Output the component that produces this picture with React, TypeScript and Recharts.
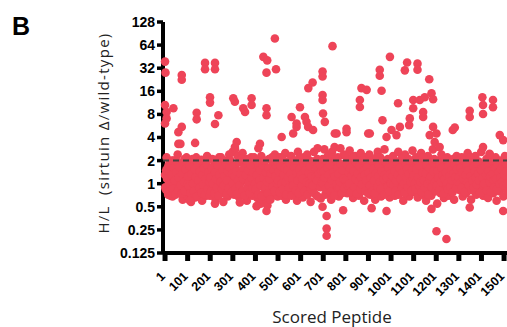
import { ScatterChart, Scatter, XAxis, YAxis, ReferenceLine } from "recharts";

const xTicks = [1, 101, 201, 301, 401, 501, 601, 701, 801, 901, 1001, 1101, 1201, 1301, 1401, 1501];
const yTicks = [0.125, 0.25, 0.5, 1, 2, 4, 8, 16, 32, 64, 128];
const cutoff = 2;

// dense band of peptides around H/L = 1 (x, ratio)
const bandPoints: [number, number][] = [
  [1, 1.3], [4, 0.85], [8, 2.2], [12, 1.6], [15, 0.72], [19, 1.1], [23, 1.9], [27, 0.95], [30, 1.45], [34, 0.68], [38, 2.0], [42, 1.2], [45, 0.8], [49, 1.7], [53, 1.05], [57, 2.4], [60, 0.75], [64, 1.35], [68, 0.9], [72, 1.8], [75, 1.15], [79, 0.62], [83, 1.5], [87, 2.1], [90, 0.88], [94, 1.25], [98, 0.7],
  [101, 1.6], [105, 0.78], [109, 2.0], [112, 1.1], [116, 0.58], [120, 1.4], [124, 1.85], [127, 0.9], [131, 1.2], [135, 0.66], [139, 2.2], [142, 1.0], [146, 0.74], [150, 1.55], [154, 1.3], [157, 0.85], [161, 2.05], [165, 0.6], [169, 1.15], [172, 1.75], [176, 0.95], [180, 1.45], [184, 0.7], [187, 2.3], [191, 1.05], [195, 0.8], [199, 1.6],
  [203, 0.9], [206, 1.5], [210, 2.1], [214, 0.7], [218, 1.25], [221, 1.8], [225, 0.62], [229, 1.05], [233, 1.65], [236, 0.85], [240, 2.2], [244, 1.35], [248, 0.75], [251, 1.9], [255, 1.1], [259, 0.58], [263, 1.45], [266, 2.0], [270, 0.95], [274, 1.2], [278, 0.68], [281, 1.7], [285, 2.4], [289, 0.8], [293, 1.3], [296, 1.0], [300, 2.6],
  [303, 1.15], [307, 0.72], [311, 2.8], [314, 1.6], [318, 0.9], [322, 2.3], [326, 1.3], [329, 0.66], [333, 1.95], [337, 1.05], [341, 0.8], [344, 2.5], [348, 1.4], [352, 0.75], [356, 1.75], [359, 1.1], [363, 0.6], [367, 2.1], [371, 1.25], [374, 0.88], [378, 1.55], [382, 2.2], [386, 0.7], [389, 1.0], [393, 1.8], [397, 0.82],
  [401, 1.45], [405, 2.0], [409, 0.65], [412, 1.2], [416, 1.7], [420, 0.92], [424, 0.55], [427, 2.3], [431, 1.05], [435, 1.5], [439, 0.75], [442, 1.9], [446, 1.3], [450, 0.6], [454, 0.52], [457, 1.0], [461, 2.1], [465, 1.6], [469, 0.8], [472, 1.25], [476, 0.7], [480, 1.85], [484, 1.1], [487, 2.4], [491, 0.9], [495, 1.4], [499, 0.68],
  [503, 1.6], [506, 0.85], [510, 2.2], [514, 1.15], [518, 0.7], [521, 1.8], [525, 1.35], [529, 0.95], [533, 2.5], [536, 0.62], [540, 1.25], [544, 1.95], [548, 0.78], [551, 1.5], [555, 1.05], [559, 2.3], [563, 0.88], [566, 1.4], [570, 2.0], [574, 0.72], [578, 1.2], [581, 1.7], [585, 0.6], [589, 2.6], [593, 1.0], [596, 1.3],
  [600, 0.8], [604, 1.9], [608, 1.45], [611, 0.66], [615, 2.2], [619, 1.1], [623, 0.9], [626, 1.65], [630, 2.4], [634, 0.75], [638, 1.3], [641, 2.0], [645, 0.58], [649, 1.2], [653, 1.75], [656, 0.85], [660, 2.6], [664, 1.4], [668, 1.0], [671, 0.7], [675, 2.1], [679, 1.55], [683, 0.95], [686, 1.25], [690, 0.64], [694, 1.85], [698, 0.5],
  [702, 1.35], [706, 2.8], [710, 0.72], [713, 1.6], [717, 1.05], [721, 2.3], [725, 0.85], [728, 1.9], [732, 1.2], [736, 0.62], [740, 2.6], [743, 1.45], [747, 0.95], [751, 3.0], [755, 1.75], [758, 0.78], [762, 1.15], [766, 2.2], [770, 0.68], [773, 1.55], [777, 2.9], [781, 1.0], [785, 1.3], [788, 0.8], [792, 2.4], [796, 1.7], [799, 0.9],
  [803, 1.5], [807, 0.75], [811, 2.1], [814, 1.2], [818, 2.7], [822, 0.88], [826, 1.4], [829, 1.85], [833, 0.65], [837, 1.1], [841, 2.3], [844, 1.6], [848, 0.8], [852, 1.0], [856, 2.0], [859, 0.7], [863, 1.3], [867, 2.5], [871, 0.92], [874, 1.7], [878, 1.15], [882, 0.6], [886, 2.2], [889, 1.45], [893, 0.85], [897, 1.95],
  [901, 1.05], [905, 2.4], [909, 0.72], [912, 1.6], [916, 1.25], [920, 0.9], [924, 2.0], [927, 1.4], [931, 0.62], [935, 1.8], [939, 1.1], [942, 2.6], [946, 0.8], [950, 1.5], [954, 2.2], [957, 0.68], [961, 1.3], [965, 0.95], [969, 1.75], [972, 2.8], [976, 1.0], [980, 0.78], [984, 1.55], [987, 2.1], [991, 1.2], [995, 0.66], [999, 1.9],
  [1003, 1.4], [1006, 0.85], [1010, 2.3], [1014, 1.15], [1018, 0.7], [1021, 1.9], [1025, 1.6], [1029, 1.0], [1033, 2.6], [1036, 0.75], [1040, 1.3], [1044, 2.0], [1048, 0.9], [1051, 1.7], [1055, 0.6], [1059, 1.2], [1063, 2.4], [1066, 1.45], [1070, 0.82], [1074, 1.05], [1078, 2.1], [1081, 0.68], [1085, 1.55], [1089, 1.85], [1093, 0.95], [1096, 2.7], [1100, 1.25],
  [1104, 0.78], [1108, 1.6], [1111, 2.2], [1115, 1.1], [1119, 0.66], [1123, 1.85], [1126, 1.35], [1130, 0.92], [1134, 2.5], [1138, 1.2], [1141, 0.72], [1145, 1.7], [1149, 2.0], [1153, 1.0], [1156, 0.6], [1160, 1.45], [1164, 2.3], [1168, 0.85], [1171, 1.25], [1175, 1.9], [1179, 0.7], [1183, 1.55], [1186, 2.8], [1190, 1.05], [1194, 0.8], [1198, 1.65],
  [1201, 1.3], [1205, 0.55], [1209, 2.0], [1212, 1.15], [1216, 1.7], [1220, 0.75], [1224, 2.4], [1227, 0.95], [1231, 1.45], [1235, 0.65], [1239, 1.85], [1242, 1.2], [1246, 0.88], [1250, 2.2], [1254, 1.55], [1257, 0.7], [1261, 1.05], [1265, 1.9], [1269, 0.8], [1272, 1.35], [1276, 2.1], [1280, 0.62], [1284, 1.6], [1287, 1.0], [1291, 2.3], [1295, 0.9], [1299, 1.25],
  [1303, 1.75], [1306, 0.82], [1310, 1.2], [1314, 2.2], [1318, 0.68], [1321, 1.5], [1325, 1.0], [1329, 1.9], [1333, 0.75], [1336, 1.35], [1340, 2.5], [1344, 0.9], [1348, 1.6], [1351, 1.1], [1355, 0.62], [1359, 2.0], [1363, 1.4], [1366, 0.85], [1370, 1.25], [1374, 2.3], [1378, 0.72], [1381, 1.7], [1385, 1.05], [1389, 1.95], [1393, 0.8], [1396, 1.45], [1400, 2.6],
  [1404, 1.1], [1408, 0.7], [1411, 1.8], [1415, 1.3], [1419, 0.92], [1423, 2.1], [1426, 1.55], [1430, 0.65], [1434, 1.2], [1438, 2.4], [1441, 0.85], [1445, 1.65], [1449, 1.0], [1453, 0.75], [1456, 1.9], [1460, 1.35], [1464, 2.2], [1468, 0.6], [1471, 1.45], [1475, 1.05], [1479, 0.8], [1483, 1.75], [1486, 2.0], [1490, 0.9], [1494, 1.25], [1498, 0.68], [1501, 1.6], [1505, 2.3], [1509, 1.1], [1512, 0.82],
];

// second pass through the band, the core between ~0.7 and ~2
const corePoints: [number, number][] = [
  [2, 0.9], [6, 1.5], [10, 1.15], [13, 0.78], [17, 1.75], [21, 1.0], [25, 0.7], [29, 1.3], [32, 2.0], [36, 0.85], [40, 1.6], [44, 1.1], [47, 0.72], [51, 1.4], [55, 1.95], [59, 0.82], [62, 1.2], [66, 1.65], [70, 0.95], [74, 0.74], [77, 1.35], [81, 1.85], [85, 1.05], [89, 0.8], [92, 1.55], [96, 2.2], [100, 1.0],
  [103, 1.25], [107, 0.92], [110, 1.7], [114, 0.75], [118, 1.35], [122, 2.1], [125, 1.0], [129, 0.8], [133, 1.55], [137, 1.2], [140, 0.68], [144, 1.9], [148, 1.1], [152, 0.88], [155, 1.45], [159, 2.0], [163, 0.76], [167, 1.3], [170, 0.98], [174, 1.6], [178, 0.72], [182, 1.15], [185, 1.8], [189, 0.85], [193, 1.4], [197, 1.05], [200, 0.7],
  [201, 1.2], [205, 0.8], [208, 1.6], [212, 1.0], [216, 2.05], [219, 0.75], [223, 1.4], [227, 1.15], [231, 0.9], [234, 1.75], [238, 0.7], [242, 1.3], [246, 1.05], [249, 2.2], [253, 0.85], [257, 1.5], [261, 0.95], [264, 1.25], [268, 1.8], [272, 0.72], [276, 1.1], [279, 1.45], [283, 0.88], [287, 1.65], [291, 2.0], [294, 0.78], [298, 1.35],
  [301, 1.0], [305, 1.7], [309, 1.25], [312, 0.85], [316, 1.45], [320, 0.74], [324, 1.1], [328, 1.9], [331, 0.95], [335, 1.35], [339, 2.1], [343, 0.8], [346, 1.15], [350, 1.6], [354, 0.7], [358, 1.3], [361, 2.0], [365, 0.9], [369, 1.5], [373, 1.05], [376, 0.76], [380, 1.75], [384, 1.2], [388, 0.88], [391, 1.4], [395, 2.2], [399, 1.0],
  [403, 0.85], [407, 1.3], [410, 1.9], [414, 0.72], [418, 1.1], [422, 1.5], [425, 0.95], [429, 0.68], [433, 1.75], [437, 1.2], [440, 2.0], [444, 0.88], [448, 1.4], [452, 1.05], [455, 0.75], [459, 1.6], [463, 1.15], [467, 0.62], [470, 1.35], [474, 2.2], [478, 0.92], [482, 1.5], [485, 0.8], [489, 1.25], [493, 1.7], [497, 1.0], [500, 1.9],
  [501, 1.1], [505, 1.45], [508, 0.78], [512, 1.7], [516, 1.0], [520, 2.1], [523, 0.85], [527, 1.3], [531, 1.6], [535, 1.05], [538, 0.72], [542, 1.5], [546, 1.2], [550, 0.9], [553, 1.85], [557, 1.35], [561, 0.7], [565, 1.15], [568, 0.95], [572, 1.65], [576, 2.0], [580, 0.82], [583, 1.4], [587, 1.1], [591, 0.76], [595, 1.55], [598, 2.2],
  [602, 1.3], [606, 0.95], [610, 1.15], [613, 1.8], [617, 0.8], [621, 1.5], [625, 2.0], [628, 1.05], [632, 0.72], [636, 1.4], [640, 1.0], [643, 1.7], [647, 0.85], [651, 1.25], [655, 0.95], [658, 1.95], [662, 0.75], [666, 1.2], [670, 1.6], [673, 1.1], [677, 0.68], [681, 1.35], [685, 1.8], [688, 0.9], [692, 1.45], [696, 1.05], [699, 2.1],
  [700, 1.0], [704, 1.45], [708, 1.2], [712, 0.85], [715, 2.0], [719, 1.6], [723, 1.3], [727, 0.95], [730, 1.75], [734, 0.78], [738, 1.1], [742, 2.2], [745, 1.4], [749, 0.7], [753, 1.25], [757, 2.1], [760, 0.98], [764, 1.6], [768, 1.35], [772, 0.9], [775, 1.05], [779, 1.8], [783, 0.75], [787, 1.5], [790, 1.15], [794, 0.88], [798, 2.3],
  [801, 1.1], [805, 1.8], [809, 0.95], [813, 1.4], [816, 1.0], [820, 1.6], [824, 0.78], [828, 1.25], [831, 2.2], [835, 1.45], [839, 0.9], [843, 1.15], [846, 1.9], [850, 0.74], [854, 1.35], [858, 1.05], [861, 1.7], [865, 0.85], [869, 1.2], [873, 0.98], [876, 2.0], [880, 1.5], [884, 1.3], [888, 0.8], [891, 1.1], [895, 1.65], [899, 0.75],
  [903, 1.4], [907, 0.95], [911, 1.2], [914, 2.0], [918, 0.8], [922, 1.55], [926, 1.1], [929, 0.75], [933, 1.35], [937, 2.2], [941, 0.9], [944, 1.25], [948, 1.7], [952, 1.05], [956, 0.85], [959, 1.45], [963, 2.0], [967, 1.15], [971, 0.72], [974, 1.3], [978, 1.9], [982, 1.2], [986, 0.92], [989, 1.6], [993, 0.8], [997, 1.35], [1000, 1.05],
  [1001, 1.0], [1005, 1.7], [1008, 1.25], [1012, 0.95], [1016, 1.45], [1020, 0.8], [1023, 1.1], [1027, 1.9], [1031, 1.3], [1035, 0.72], [1038, 1.6], [1042, 1.15], [1046, 2.1], [1050, 0.88], [1053, 1.4], [1057, 1.0], [1061, 0.76], [1065, 1.8], [1068, 1.2], [1072, 1.55], [1076, 0.9], [1080, 1.35], [1083, 2.0], [1087, 1.05], [1091, 0.8], [1095, 1.5], [1098, 1.15],
  [1102, 1.3], [1106, 1.0], [1110, 0.85], [1113, 1.55], [1117, 2.0], [1121, 1.2], [1125, 0.95], [1128, 1.7], [1132, 1.05], [1136, 0.78], [1140, 1.4], [1143, 2.2], [1147, 1.1], [1151, 0.88], [1155, 1.35], [1158, 1.75], [1162, 1.0], [1166, 0.72], [1170, 1.6], [1173, 1.15], [1177, 1.25], [1181, 0.9], [1185, 1.9], [1188, 1.45], [1192, 2.1], [1196, 1.05], [1199, 0.8],
  [1203, 0.95], [1207, 1.45], [1210, 1.2], [1214, 0.82], [1218, 1.9], [1222, 1.05], [1225, 1.6], [1229, 1.3], [1233, 0.74], [1237, 1.15], [1240, 2.1], [1244, 1.4], [1248, 1.0], [1252, 0.85], [1255, 1.7], [1259, 1.25], [1263, 0.92], [1267, 1.5], [1270, 1.1], [1274, 0.78], [1278, 1.35], [1282, 1.8], [1285, 1.2], [1289, 0.88], [1293, 1.55], [1297, 1.05], [1300, 2.0],
  [1301, 1.2], [1305, 1.0], [1308, 1.6], [1312, 0.88], [1316, 1.4], [1320, 1.15], [1323, 2.0], [1327, 0.78], [1331, 1.3], [1335, 1.75], [1338, 1.05], [1342, 1.5], [1346, 0.95], [1350, 2.2], [1353, 1.25], [1357, 0.82], [1361, 1.1], [1365, 1.65], [1368, 0.9], [1372, 1.45], [1376, 1.2], [1380, 0.98], [1383, 1.85], [1387, 1.35], [1391, 1.1], [1395, 0.76], [1398, 1.55],
  [1402, 1.5], [1406, 1.2], [1410, 0.95], [1413, 1.0], [1417, 1.7], [1421, 1.3], [1425, 0.82], [1428, 1.9], [1432, 1.45], [1436, 1.05], [1440, 1.25], [1443, 0.78], [1447, 2.0], [1451, 1.35], [1455, 1.1], [1458, 0.9], [1462, 1.6], [1466, 1.15], [1470, 0.85], [1473, 1.8], [1477, 1.4], [1481, 1.0], [1485, 1.2], [1488, 1.55], [1492, 1.05], [1496, 1.7], [1500, 0.95], [1503, 1.3], [1507, 1.85], [1511, 1.45], [1514, 1.0],
];

// enriched peptides above the band
const highPoints: [number, number][] = [
  [1, 39], [3, 28], [1, 10.6], [8, 8.6], [8, 7.1], [1, 6.1], [38, 9.6], [75, 26], [75, 22.6], [75, 5.5], [60, 4.7], [60, 3.3], [69, 3.3],
  [134, 3.4], [141, 8.4], [141, 6.9], [178, 37.5], [178, 31], [222, 37.5], [222, 31], [200, 13.4], [200, 11.4], [237, 7.8], [222, 6.0],
  [303, 13], [310, 11.7], [347, 9.6], [355, 8.6], [384, 13], [384, 10.6], [318, 3.5], [310, 3.0], [421, 3.3], [414, 2.9],
  [436, 45], [453, 40.5], [450, 28], [492, 31], [487, 78], [450, 9.6], [450, 7.8], [517, 4.06], [561, 7.4], [568, 4.5],
  [583, 5.5], [583, 6.1], [598, 9.9], [620, 7.4], [627, 6.4], [634, 5.5], [656, 5.0], [635, 17.6], [654, 20.8], [676, 2.9],
  [698, 29], [698, 25], [698, 14.3], [698, 12.3], [700, 8.2], [708, 6.4], [742, 62], [752, 4.5], [760, 4.5], [804, 5.2], [804, 4.7],
  [863, 12.3], [863, 10], [870, 17.6], [893, 16.7], [900, 4.5], [907, 4.5], [951, 30.5], [951, 25.5], [959, 16.3], [963, 6.7],
  [981, 4.06], [996, 45], [1003, 5.0], [1025, 4.3], [1032, 11.2], [1040, 5.5], [1062, 30], [1072, 38], [1081, 5.8], [1084, 7.1],
  [1099, 12.3], [1099, 9.6], [1118, 36.7], [1118, 30.5], [1128, 12.3], [1143, 8.6], [1143, 7.4], [1150, 13.4], [1170, 23],
  [1172, 4.3], [1180, 15.1], [1187, 12.6], [1187, 5.5], [1194, 3.5], [1202, 4.5], [1216, 3.0], [1274, 5.0], [1283, 5.4],
  [1349, 8.9], [1349, 7.4], [1405, 13.4], [1408, 10.6], [1408, 8.1], [1408, 3.0], [1437, 2.45], [1452, 12.3], [1452, 9.9],
  [1482, 4.3], [1497, 3.7],
];

// depleted peptides below the band
const lowPoints: [number, number][] = [
  [111, 0.6], [222, 0.55], [332, 0.57], [406, 0.51], [450, 0.44], [716, 0.38], [716, 0.26], [716, 0.21], [789, 0.45],
  [915, 0.48], [981, 0.44], [1180, 0.47], [1202, 0.24], [1246, 0.19], [1349, 0.49], [1497, 0.44],
];

const RED = "#EE4458";
const toRows = (pts: [number, number][]) => pts.map(([x, y]) => ({ x, y }));

const Dot = (p: any) => <circle cx={p.cx} cy={p.cy} r={4.3} fill={RED} />;

const XTick = (p: any) => {
  const ax = p.x + 1;
  const ay = p.y + 14;
  return (
    <text
      x={ax}
      y={ay}
      transform={`rotate(-45, ${ax}, ${ay})`}
      textAnchor="end"
      fontSize={12.5}
      fontWeight="bold"
      fontFamily="Liberation Sans, Arial, sans-serif"
      fill="#000"
    >
      {p.payload.value}
    </text>
  );
};

export default function App() {
  return (
    <div style={{ position: "absolute", left: 0, top: 0, width: 507, height: 327, background: "#fff" }}>
      <div
        style={{
          position: "absolute",
          left: 12,
          top: 11,
          fontFamily: "Liberation Sans, Arial, sans-serif",
          fontWeight: "bold",
          fontSize: 25,
          lineHeight: "30px",
        }}
      >
        B
      </div>
      <div
        style={{
          position: "absolute",
          left: 103,
          top: 133,
          transform: "translate(-50%, -50%) rotate(-90deg)",
          whiteSpace: "pre",
          fontFamily: "Open Sans, sans-serif",
          fontSize: 15,
          letterSpacing: 1.3,
          color: "#222",
        }}
      >
        {"H/L  (sirtuin Δ/wild-type)"}
      </div>
      <div
        style={{
          position: "absolute",
          left: 332,
          top: 316,
          transform: "translate(-50%, -50%)",
          whiteSpace: "pre",
          fontFamily: "Open Sans, sans-serif",
          fontSize: 17,
          color: "#222",
        }}
      >
        Scored Peptide
      </div>
      <ScatterChart width={507} height={327} margin={{ top: 22, right: 0, bottom: 14, left: 0 }}>
        <XAxis
          type="number"
          dataKey="x"
          domain={[-8, 1514]}
          ticks={xTicks}
          interval={0}
          height={60}
          tick={<XTick />}
          tickSize={8}
          axisLine={{ stroke: "#000", strokeWidth: 4 }}
          tickLine={{ stroke: "#000", strokeWidth: 5 }}
        />
        <YAxis
          type="number"
          dataKey="y"
          scale="log"
          domain={[0.125, 128]}
          ticks={yTicks}
          interval={0}
          width={163}
          tickSize={6}
          tick={{ fill: "#000", fontSize: 14, fontWeight: "bold", fontFamily: "Liberation Sans, Arial, sans-serif" }}
          axisLine={{ stroke: "#000", strokeWidth: 4 }}
          tickLine={{ stroke: "#000", strokeWidth: 3.5 }}
        />
        <Scatter data={toRows(bandPoints)} shape={<Dot />} isAnimationActive={false} />
        <Scatter data={toRows(corePoints)} shape={<Dot />} isAnimationActive={false} />
        <Scatter data={toRows(highPoints)} shape={<Dot />} isAnimationActive={false} />
        <Scatter data={toRows(lowPoints)} shape={<Dot />} isAnimationActive={false} />
        <ReferenceLine y={cutoff} stroke="#444" strokeWidth={2} strokeDasharray="6 4" {...({ zIndex: 2000 } as any)} />
      </ScatterChart>
    </div>
  );
}
